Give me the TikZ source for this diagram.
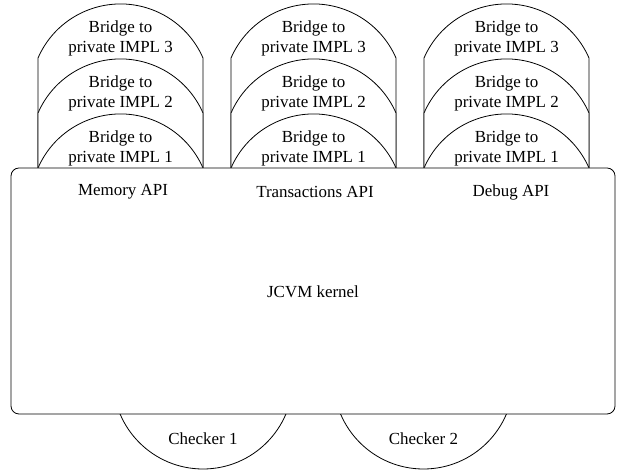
\documentclass[tikz,border=0pt]{standalone}
\usepackage{fontspec}
\setmainfont{Liberation Serif}
\begin{document}
\begin{tikzpicture}[x=1bp, y=1bp, font=\fontsize{17}{20}\selectfont,
    part/.style={draw=black, fill=white, line width=0.8pt}]
    \useasboundingbox (0,0) rectangle (619,471);

    % pontes: da maior (3) para a menor (1), uma pilha por API
    % arco de circulo r=90 sobre uma corda de 165
    \foreach \xa/\stk in {38/mem, 231/trans, 424/debug} {
        \foreach \k in {3,2,1} {
            \path[part] (\xa,303) -- ++(0,{55*(\k-1)})
                arc (156.45:23.55:90) -- ++(0,{-55*(\k-1)});
            \node[align=center] (bridge-\stk\k) at ({\xa+82.5},{323+55*(\k-1)})
                {Bridge to\\private IMPL \k};
        }
    }

    % checkers por baixo do kernel
    \foreach \cx/\n in {203/1, 423.5/2}
        \path[part] (\cx,92) circle (90);

    \path[part, rounded corners=8bp] (11,57) rectangle (615,303);

    \node (kernel) at (313,179) {JCVM kernel};
    \node (memapi) at (123,279) {Memory API};
    \node (transapi) at (315,279) {Transactions API};
    \node (debugapi) at (511,279) {Debug API};

    \foreach \cx/\n in {203/1, 423.5/2}
        \node (checker\n) at (\cx,32) {Checker \n};
\end{tikzpicture}
\end{document}
